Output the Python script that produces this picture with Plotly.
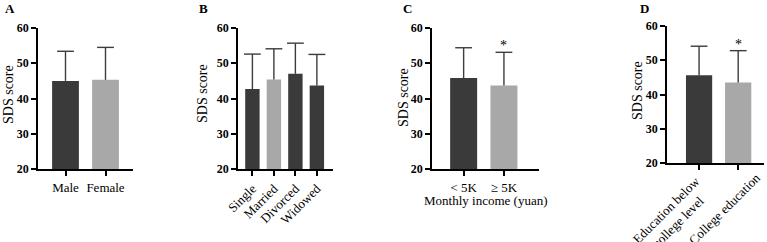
import plotly.graph_objects as go

# ---- data ----
a_cats = ["Male", "Female"]
a_mean = [45.0, 45.3]
a_sd = [8.4, 9.2]

b_cats = ["Single", "Married", "Divorced", "Widowed"]
b_mean = [42.7, 45.4, 47.0, 43.7]
b_sd = [9.9, 8.7, 8.7, 8.8]

c_cats = ["< 5K", "\u2265 5K"]
c_mean = [45.8, 43.7]
c_sd = [8.6, 9.4]

d_cats = ["Education below college level", "College education"]
d_labels = ["Education below<br>college level", "College education"]
d_mean = [45.6, 43.5]
d_sd = [8.5, 9.3]

y_ticks = [20, 30, 40, 50, 60]

DARK = "#3a3a3a"
LIGHT = "#a8a8a8"
ERR = "#3c3c3c"
FONT = "Liberation Serif, Times New Roman, serif"

W, H = 767, 242

panels = [
    dict(cats=a_cats, mean=a_mean, sd=a_sd, colors=[DARK, LIGHT],
         xpx=(38, 133), ypx=(28, 169), xr=[-0.6875, 1.6875], angle=0, star=[False, False]),
    dict(cats=b_cats, mean=b_mean, sd=b_sd, colors=[DARK, LIGHT, DARK, DARK],
         xpx=(238, 333), ypx=(28, 169), xr=[-0.67, 3.75], angle=-45, star=[False] * 4),
    dict(cats=c_cats, mean=c_mean, sd=c_sd, colors=[DARK, LIGHT],
         xpx=(432, 539), ypx=(28, 169), xr=[-0.785, 1.87], angle=0, star=[False, True]),
    dict(cats=d_cats, mean=d_mean, sd=d_sd, colors=[DARK, LIGHT],
         xpx=(667, 764), ypx=(26, 163), xr=[-0.82, 1.66], angle=-45, star=[False, True],
         hide_labels=True),
]

fig = go.Figure()
layout = dict(width=W, height=H, margin=dict(l=0, r=0, t=0, b=0, autoexpand=False),
              plot_bgcolor="white", paper_bgcolor="white", showlegend=False,
              font=dict(family=FONT, color="black"))
annotations = []

for i, p in enumerate(panels):
    n = "" if i == 0 else str(i + 1)
    xa, ya = "x" + n, "y" + n
    fig.add_trace(go.Bar(x=p["cats"], y=p["mean"], base=0, width=0.67,
                         marker=dict(color=p["colors"], line=dict(width=0)),
                         xaxis=xa, yaxis=ya, hoverinfo="skip"))
    ex, ey = [], []
    for c, m, s in zip(p["cats"], p["mean"], p["sd"]):
        ex += [c, c, None]
        ey += [m, m + s, None]
    fig.add_trace(go.Scatter(x=ex, y=ey, mode="lines", line=dict(color=ERR, width=1.4),
                             xaxis=xa, yaxis=ya, hoverinfo="skip"))
    fig.add_trace(go.Scatter(x=p["cats"], y=[m + s for m, s in zip(p["mean"], p["sd"])],
                             mode="markers",
                             marker=dict(symbol="line-ew", size=12,
                                         line=dict(color=ERR, width=1.4)),
                             xaxis=xa, yaxis=ya, hoverinfo="skip"))
    for c, m, s, st in zip(p["cats"], p["mean"], p["sd"], p["star"]):
        if st:
            annotations.append(dict(x=c, y=m + s, xref=xa, yref=ya, text="*",
                                    showarrow=False, yanchor="bottom", yshift=-3,
                                    font=dict(family=FONT, size=14, color="black")))
    x0, x1 = p["xpx"]
    yt, yb = p["ypx"]
    layout["xaxis" + n] = dict(domain=[x0 / W, x1 / W], anchor=ya, type="category",
                               range=p["xr"], showline=True, linewidth=1.8, linecolor="black",
                               ticks="outside", ticklen=5, tickwidth=1.5, tickcolor="black",
                               tickangle=p["angle"], showgrid=False, zeroline=False,
                               automargin=False, showticklabels=not p.get("hide_labels", False),
                               tickfont=dict(family=FONT, size=13, color="black"),
                               fixedrange=True)
    layout["yaxis" + n] = dict(domain=[1 - yb / H, 1 - yt / H], anchor=xa,
                               range=[20, 60], tickvals=y_ticks, showline=True,
                               linewidth=1.8, linecolor="black", ticks="outside",
                               ticklen=5, tickwidth=1.5, tickcolor="black",
                               showgrid=False, zeroline=False, automargin=False,
                               tickfont=dict(family=FONT, size=12, color="black", weight="bold"),
                               fixedrange=True)

# panel D rotated category labels (block top-right offset from tick, as in the original)
for c, lab, xs, ys in zip(d_cats, d_labels, [17, 27], [-9, -5]):
    annotations.append(dict(x=c, y=20, xref="x4", yref="y4", text=lab, textangle=-45,
                            showarrow=False, xanchor="right", yanchor="top", align="center",
                            xshift=xs, yshift=ys, borderpad=0,
                            font=dict(family=FONT, size=13, color="black")))

for letter, lx in zip(["A", "B", "C", "D"], [3, 197, 401, 638]):
    annotations.append(dict(x=lx / W, y=1 - 9 / H, xref="paper", yref="paper", text=letter,
                            showarrow=False, xanchor="left", yanchor="middle",
                            font=dict(family=FONT, size=13, color="black", weight="bold")))
for tx, ty in zip([8, 203, 403, 638], [95, 93, 98, 91]):
    annotations.append(dict(x=tx / W, y=1 - ty / H, xref="paper", yref="paper",
                            text="SDS score", textangle=-90, showarrow=False,
                            xanchor="center", yanchor="middle",
                            font=dict(family=FONT, size=14, color="black")))
annotations.append(dict(x=485 / W, y=1 - 200 / H, xref="paper", yref="paper",
                        text="Monthly income (yuan)", showarrow=False,
                        xanchor="center", yanchor="middle",
                        font=dict(family=FONT, size=13, color="black")))

layout["annotations"] = annotations
fig.update_layout(**layout)
fig.write_html("out.html", config={"displayModeBar": False},
               post_script="document.body.style.margin='0';document.body.style.overflow='hidden';")
